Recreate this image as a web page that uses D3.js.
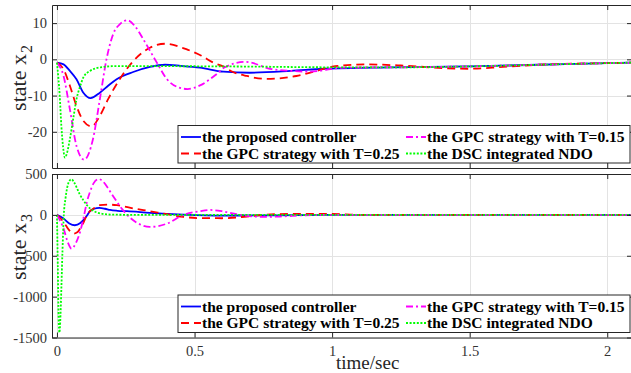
<!DOCTYPE html>
<html><head><meta charset="utf-8">
<script src="https://cdn.jsdelivr.net/npm/d3@7"></script>
<style>
html,body{margin:0;padding:0;background:#fff;}
svg{display:block;}
text{font-family:"Liberation Serif","Times New Roman",Times,serif;}
</style></head><body>
<svg id="chart" width="631" height="373"></svg>
<script>
// ---- tick values ----
const timeTicks = [0, 0.5, 1, 1.5, 2];
const timeTickLabels = ["0", "0.5", "1", "1.5", "2"];
const x2Ticks = [-20, -10, 0, 10];
const x3Ticks = [-1500, -1000, -500, 0, 500];

const seriesNames = [
  "the proposed controller",
  "the GPC strategy with T=0.25",
  "the GPC strategy with T=0.15",
  "the DSC integrated NDO"
];

// ---- state x2 ----
const tProposedX2 = [0, 0.024, 0.047, 0.071, 0.096, 0.122, 0.156, 0.186, 0.217, 0.277, 0.338, 0.393, 0.45, 0.52, 0.605, 0.7, 0.85, 0.97, 1.21, 1.5, 1.75, 2.0, 2.1];
const proposedX2  = [-0.9, -1.4, -3.2, -5.5, -9.2, -10.7, -9.2, -7.3, -5.5, -3.5, -2.1, -1.5, -1.8, -2.3, -3.4, -3.7, -3.2, -2.6, -2.2, -1.95, -1.5, -1.05, -0.9];

const tGpc25X2 = [0, 0.024, 0.047, 0.071, 0.096, 0.126, 0.156, 0.186, 0.228, 0.277, 0.338, 0.393, 0.47, 0.525, 0.568, 0.605, 0.64, 0.69, 0.76, 0.87, 0.944, 1.0, 1.12, 1.25, 1.4, 1.5, 1.62, 1.75, 2.0, 2.1];
const gpc25X2  = [-0.9, -2.75, -7.3, -12.9, -17, -18.5, -15.6, -11, -5.5, -0.5, 3.2, 4.3, 2.8, 1.0, -0.9, -2.0, -3.5, -4.6, -5.4, -4.6, -3.2, -2.0, -1.4, -1.7, -2.4, -2.6, -2.1, -1.5, -1.05, -0.9];

const tGpc15X2 = [0, 0.024, 0.047, 0.071, 0.099, 0.131, 0.156, 0.18, 0.204, 0.23, 0.256, 0.285, 0.314, 0.363, 0.4, 0.44, 0.475, 0.52, 0.58, 0.61, 0.685, 0.78, 0.85, 0.92, 1.04, 1.25, 1.5, 1.75, 2.0, 2.1];
const gpc15X2  = [-0.9, -4.6, -13.8, -23.9, -27.7, -22, -11, 0, 6.9, 9.8, 10.8, 9.0, 5.5, -0.9, -5.5, -7.7, -8.2, -7.2, -4.1, -2.2, -0.7, -2.7, -3.2, -3.4, -2.3, -2.2, -1.95, -1.5, -1.05, -0.9];

const tDscX2 = [0, 0.005, 0.01, 0.016, 0.022, 0.029, 0.036, 0.047, 0.06, 0.071, 0.084, 0.096, 0.12, 0.14, 0.17, 0.2, 0.4, 0.7, 1.0, 1.25, 1.5, 1.75, 2.0, 2.1];
const dscX2  = [-0.9, -5, -10, -18.4, -24, -27.1, -26, -22, -16, -11, -7.5, -5, -3.2, -2.5, -2.1, -1.9, -1.9, -2.0, -2.2, -2.2, -1.95, -1.5, -1.05, -0.9];

// ---- state x3 ----
const tProposedX3 = [0, 0.024, 0.045, 0.065, 0.085, 0.096, 0.11, 0.12, 0.135, 0.154, 0.175, 0.193, 0.22, 0.255, 0.338, 0.46, 0.6, 0.8, 1.0, 2.1];
const proposedX3  = [0, -45, -105, -127, -100, -65, -5, 45, 75, 86, 75, 60, 50, 45, 25, 4, -8, -5, 0, 0];

const tGpc25X3 = [0, 0.024, 0.045, 0.06, 0.075, 0.084, 0.097, 0.109, 0.12, 0.133, 0.156, 0.19, 0.218, 0.28, 0.338, 0.4, 0.46, 0.52, 0.6, 0.69, 0.75, 0.85, 1.0, 1.1, 1.2, 2.1];
const gpc25X3  = [0, -86, -190, -229, -210, -168, -90, 0, 45, 78, 119, 125, 119, 78, 45, 8, -25, -40, -41, -20, 0, 12, 12, 0, 0, 0];

const tGpc15X3 = [0, 0.024, 0.04, 0.053, 0.068, 0.084, 0.097, 0.109, 0.121, 0.133, 0.152, 0.167, 0.182, 0.2, 0.218, 0.237, 0.255, 0.29, 0.338, 0.4, 0.46, 0.52, 0.556, 0.6, 0.653, 0.75, 0.81, 0.9, 1.0, 2.1];
const gpc15X3  = [0, -168, -340, -414, -350, -209, -30, 160, 290, 385, 438, 410, 344, 250, 160, 70, 0, -95, -147, -107, 0, 45, 60, 45, 8, -25, -20, -5, 0, 0];

const tDscX3 = [0, 0.003, 0.006, 0.009, 0.012, 0.016, 0.02, 0.025, 0.031, 0.037, 0.045, 0.053, 0.062, 0.071, 0.083, 0.096, 0.11, 0.12, 0.145, 0.17, 0.2, 0.3, 2.1];
const dscX3  = [0, -600, -1250, -1440, -1300, -900, -450, 0, 200, 330, 415, 435, 400, 340, 250, 180, 115, 80, 30, 10, 3, 0, 0];

// ---- styles ----
const lineStyles = [
  {color: "#0000ff", dash: null},
  {color: "#ff0000", dash: "8,5"},
  {color: "#ff00ff", dash: "7,3,2,3"},
  {color: "#00ff00", dash: "2,1.6"}
];
const axisColor = "#262626";
const gridColor = "#e3e3e3";

const svg = d3.select("#chart");
svg.append("rect").attr("width", 631).attr("height", 373).attr("fill", "#fff");

const left = 52, right = 632;
const x = d3.scaleLinear().domain([-0.018, 2.09]).range([left, right]);

const panels = [
  {
    id: "p2", top: 5, bottom: 168, domain: [-30, 15], ticks: x2Ticks, sub: "2", labelY: 78,
    series: [[tProposedX2, proposedX2], [tGpc25X2, gpc25X2], [tGpc15X2, gpc15X2], [tDscX2, dscX2]],
    legend: {x: 178, y: 125.5, h: 37.5}, showTimeLabels: false
  },
  {
    id: "p3", top: 174, bottom: 337.5, domain: [-1500, 500], ticks: x3Ticks, sub: "3", labelY: 247,
    series: [[tProposedX3, proposedX3], [tGpc25X3, gpc25X3], [tGpc15X3, gpc15X3], [tDscX3, dscX3]],
    legend: {x: 178, y: 295, h: 37.5}, showTimeLabels: true
  }
];

panels.forEach(p => {
  const y = d3.scaleLinear().domain(p.domain).range([p.bottom, p.top]);
  const g = svg.append("g");
  const h = p.bottom - p.top, w = right - left;

  // grid
  const grid = g.append("g").attr("stroke", gridColor).attr("stroke-width", 1);
  timeTicks.forEach(t => grid.append("line")
    .attr("x1", Math.round(x(t)) + 0.5).attr("x2", Math.round(x(t)) + 0.5)
    .attr("y1", p.top).attr("y2", p.bottom));
  p.ticks.forEach(v => grid.append("line")
    .attr("x1", left).attr("x2", right)
    .attr("y1", Math.round(y(v)) + 0.5).attr("y2", Math.round(y(v)) + 0.5));

  // curves
  svg.append("clipPath").attr("id", "clip-" + p.id)
    .append("rect").attr("x", left).attr("y", p.top).attr("width", w).attr("height", h);
  const line = d3.line().x(d => x(d[0])).y(d => y(d[1])).curve(d3.curveMonotoneX);
  const curves = g.append("g").attr("clip-path", `url(#clip-${p.id})`);
  p.series.forEach((s, i) => {
    curves.append("path")
      .datum(d3.zip(s[0], s[1]))
      .attr("d", line)
      .attr("fill", "none")
      .attr("stroke", lineStyles[i].color)
      .attr("stroke-width", 1.8)
      .attr("stroke-dasharray", lineStyles[i].dash)
      .attr("stroke-linejoin", "round");
  });

  // axes with inward ticks
  const styleAxis = sel => {
    sel.selectAll("path.domain").attr("stroke", axisColor).attr("stroke-width", 1);
    sel.selectAll(".tick line").attr("stroke", axisColor);
    sel.selectAll(".tick text").attr("fill", "#333").attr("font-size", "14.5px")
      .attr("font-family", '"Liberation Serif","Times New Roman",serif');
  };
  g.append("g").attr("transform", `translate(${left},0)`)
    .call(d3.axisLeft(y).tickValues(p.ticks).tickSizeInner(-5).tickSizeOuter(0).tickPadding(5)
      .tickFormat(d => String(d)))
    .call(styleAxis);
  g.append("g").attr("transform", `translate(${right},0)`)
    .call(d3.axisRight(y).tickValues(p.ticks).tickSizeInner(-5).tickSizeOuter(0).tickFormat(""))
    .call(styleAxis);
  g.append("g").attr("transform", `translate(0,${p.top})`)
    .call(d3.axisTop(x).tickValues(timeTicks).tickSizeInner(-5).tickSizeOuter(0).tickFormat(""))
    .call(styleAxis);
  const bottomAxis = d3.axisBottom(x).tickValues(timeTicks).tickSizeInner(-5).tickSizeOuter(0).tickPadding(8)
    .tickFormat(p.showTimeLabels ? ((d, i) => timeTickLabels[i]) : "");
  g.append("g").attr("transform", `translate(0,${p.bottom})`)
    .call(bottomAxis).call(styleAxis);

  // y label
  const lab = g.append("text")
    .attr("transform", `translate(26,${p.labelY}) rotate(-90)`)
    .attr("text-anchor", "middle")
    .attr("fill", axisColor)
    .attr("font-size", "22px");
  lab.append("tspan").text("state x");
  lab.append("tspan").attr("dy", 6).attr("dx", 1).attr("font-size", "16px").text(p.sub);

  // legend
  const L = p.legend;
  const lg = g.append("g");
  lg.append("rect").attr("x", L.x).attr("y", L.y).attr("width", right - 2 - L.x).attr("height", L.h)
    .attr("fill", "#fff").attr("stroke", axisColor).attr("stroke-width", 1);
  const cols = [L.x + 3, L.x + 228];
  const rows = [L.y + 11.5, L.y + 28];
  const order = [[0, 0, 0], [1, 0, 1], [2, 1, 0], [3, 1, 1]];
  order.forEach(([si, c, r]) => {
    const lx = cols[c], ly = rows[r];
    lg.append("line").attr("x1", lx).attr("x2", lx + 20).attr("y1", ly).attr("y2", ly)
      .attr("stroke", lineStyles[si].color).attr("stroke-width", 1.8)
      .attr("stroke-dasharray", lineStyles[si].dash);
    lg.append("text").attr("x", lx + 21).attr("y", ly + 5)
      .attr("font-size", "15.5px").attr("font-weight", "bold").attr("fill", "#000")
      .text(seriesNames[si]);
  });
});

// x label
svg.append("text").attr("x", 336).attr("y", 369)
  .attr("font-size", "19px").attr("fill", axisColor).text("time/sec");
</script>
</body></html>
